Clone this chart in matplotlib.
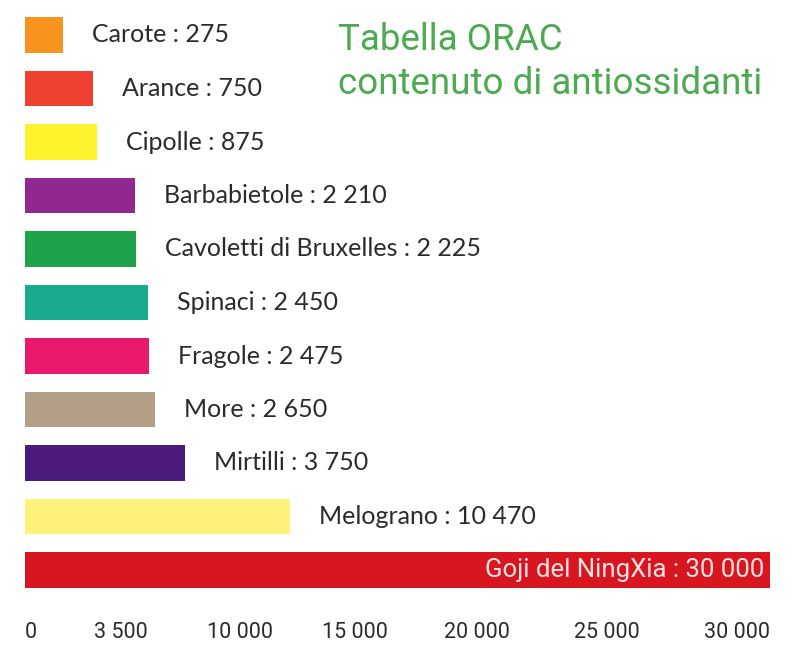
import matplotlib
matplotlib.use("Agg")
import matplotlib.pyplot as plt
import matplotlib.transforms as mtransforms
import numpy as np

alimenti = ["Carote", "Arance", "Cipolle", "Barbabietole", "Cavoletti di Bruxelles",
            "Spinaci", "Fragole", "More", "Mirtilli", "Melograno", "Goji del NingXia"]
orac = [275, 750, 875, 2210, 2225, 2450, 2475, 2650, 3750, 10470, 30000]
colori = ["#f7941d", "#ef4130", "#fff22d", "#92278f", "#1fa34a", "#19ab8e",
          "#e8186c", "#b39e88", "#4a1a7c", "#fff27a", "#d7161f"]
tick_vals = [0, 3500, 10000, 15000, 20000, 25000, 30000]
tick_labels = ["0", "3 500", "10 000", "15 000", "20 000", "25 000", "30 000"]

# L'infografica non e' lineare: scala "stirata" a tratti (valore -> frazione)
stretch_v = [0, 275, 750, 875, 2210, 2225, 2450, 2475, 2650, 3750,
             10000, 10470, 15000, 20000, 25000, 30000]
stretch_px = [0, 38, 68, 72, 110, 111, 123, 124, 130, 160,
              248, 265, 363, 485, 615, 745]
stretch_f = np.array(stretch_px) / 745.0


def forward(v):
    return np.interp(v, stretch_v, stretch_f)


def inverse(f):
    return np.interp(f, stretch_f, stretch_v)


def fmt(n):
    return f"{n:,}".replace(",", " ")


W, H = 795, 657
fig = plt.figure(figsize=(W / 100, H / 100), dpi=100)
fig.patch.set_facecolor("white")

ax = fig.add_axes([25 / W, (H - 596.75) / H, 745 / W, 588.5 / H])
ax.set_xscale("function", functions=(forward, inverse))
ax.set_xlim(0, 30000)
ax.set_ylim(len(alimenti) - 0.5, -0.5)

y = np.arange(len(alimenti))
ax.barh(y, orac, height=0.67, color=colori, edgecolor="none")

narrow = ["Roboto", "DejaVu Sans"]
label_font = ["Lato", "DejaVu Sans"]

for i, (nome, val) in enumerate(zip(alimenti, orac)):
    testo = f"{nome} : {fmt(val)}"
    if i == len(alimenti) - 1:
        ax.annotate(testo, (val, i), xytext=(-6, 0), textcoords="offset pixels",
                    ha="right", va="center", color="#f7e2e2", fontsize=18.5,
                    family=narrow)
    else:
        ax.annotate(testo, (val, i), xytext=(29, 0), textcoords="offset pixels",
                    ha="left", va="center", color="#2b2b2b", fontsize=18,
                    family=label_font)

for s in ax.spines.values():
    s.set_visible(False)
ax.set_yticks([])
ax.set_xticks(tick_vals)
ax.set_xticklabels(tick_labels)
ax.tick_params(axis="x", length=0, pad=18, labelsize=15.5, labelcolor="#2b2b2b")
for k, lab in enumerate(ax.get_xticklabels()):
    lab.set_family(narrow)
    if k == 0:
        lab.set_ha("left")
    else:
        lab.set_ha("right")
    if k == 1:
        lab.set_transform(lab.get_transform() +
                          mtransforms.ScaledTranslation(-0.30, 0, fig.dpi_scale_trans))

verde = "#4caa50"
fig.text(338 / W, 1 - 50 / H, "Tabella ORAC", ha="left", va="baseline",
         color=verde, fontsize=26.5, family=narrow)
fig.text(338 / W, 1 - 94 / H, "contenuto di antiossidanti", ha="left", va="baseline",
         color=verde, fontsize=26.5, family=narrow)

fig.savefig("out.png", dpi=100, facecolor="white")
